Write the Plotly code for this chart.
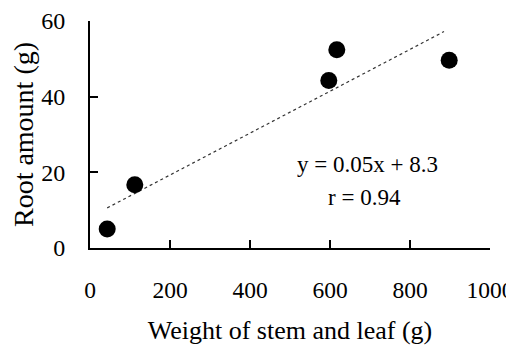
import plotly.graph_objects as go

stem_leaf = [43, 112, 597, 617, 898]
root = [5.0, 16.7, 44.3, 52.4, 49.6]
trend_x = [43, 885]
trend_y = [10.6, 57.2]
x_ticks = [0, 200, 400, 600, 800, 1000]
y_ticks = [0, 20, 40, 60]

FONT = "Liberation Serif"

fig = go.Figure()
fig.add_trace(go.Scatter(x=trend_x, y=trend_y, mode="lines",
                         line=dict(color="#333", width=1.2, dash="dot"),
                         hoverinfo="skip", showlegend=False))
fig.add_trace(go.Scatter(x=stem_leaf, y=root, mode="markers",
                         marker=dict(color="black", size=17),
                         showlegend=False))

fig.add_annotation(x=694, y=22.1, text="y = 0.05x + 8.3", showarrow=False,
                   font=dict(family=FONT, size=23, color="black"))
fig.add_annotation(x=687, y=13.4, text="r = 0.94", showarrow=False,
                   font=dict(family=FONT, size=23, color="black"))

# page body has an 8px default margin, so the figure is sized/offset to fit
fig.update_layout(
    width=506, height=337,
    margin=dict(l=82, r=24, t=13, b=97, autoexpand=False),
    paper_bgcolor="white", plot_bgcolor="white",
    font=dict(family=FONT, size=23, color="black"),
    xaxis=dict(range=[0, 1000], tickvals=x_ticks, ticks="inside", ticklen=8,
               tickwidth=2, tickcolor="black", showline=True, linecolor="black",
               linewidth=2, showgrid=False, zeroline=False, automargin=False,
               ticklabelstandoff=20, tickfont=dict(family=FONT, size=23.5),
               title=dict(text="Weight of stem and leaf (g)", standoff=20,
                          font=dict(family=FONT, size=26))),
    yaxis=dict(range=[0, 60], tickvals=y_ticks, ticks="inside", ticklen=8,
               tickwidth=2, tickcolor="black", showline=True, linecolor="black",
               linewidth=2, showgrid=False, zeroline=False, automargin=False,
               ticklabelstandoff=18, tickfont=dict(family=FONT, size=24),
               title=dict(text="Root amount (g)", standoff=10,
                          font=dict(family=FONT, size=28))),
)

fig.write_html("out.html")
